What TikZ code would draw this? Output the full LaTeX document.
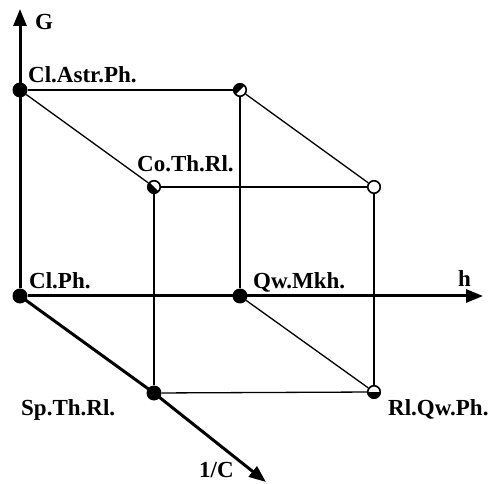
\documentclass[tikz,border=0pt]{standalone}
\usepackage{fontspec}
\setmainfont{Liberation Serif}
\usetikzlibrary{arrows.meta,positioning}

\begin{document}
\begin{tikzpicture}[x=1pt,y=-1pt,
  axis/.style={line width=3pt,-{Triangle[length=17pt,width=13pt]}},
  edge/.style={line width=1.3pt},
  dot/.style={circle,fill=black,inner sep=0pt,minimum size=15pt},
  hollow/.style={circle,draw=black,line width=1.6pt,fill=white,inner sep=0pt,minimum size=12.5pt},
  lbl/.style={font=\fontsize{23}{27}\selectfont\bfseries,inner sep=0pt,anchor=base west}
]
\useasboundingbox (0,0) rectangle (496,484);
% corners of the cube
\node[dot] (clastr) at (20,90) {};
\node[hollow] (backtr) at (240,90) {};
\node[hollow] (coth) at (154,187) {};
\node[hollow] (fronttr) at (374,187) {};
\node[dot] (clph) at (20,296) {};
\node[dot] (qwmkh) at (240,296) {};
\node[dot] (spth) at (154,393) {};
\node[hollow] (rlqw) at (374,392) {};
% half filled corners
\fill (backtr.center) ++(225:6.5pt) arc[start angle=225,end angle=45,radius=6.5pt] -- cycle;
\fill (coth.center) ++(-45:6.5pt) arc[start angle=-45,end angle=-225,radius=6.5pt] -- cycle;
\fill (rlqw.center) ++(0:6.5pt) arc[start angle=0,end angle=-180,radius=6.5pt] -- cycle;
\coordinate (gtip) at (20,9);
\coordinate (htip) at (483,296);
\coordinate (ctip) at (266,482);
% axes
\draw[axis] (clph) -- (gtip);
\draw[axis] (clph) -- (htip);
\draw[axis] (clph.center) -- (spth.center) -- (ctip);
% edges
\draw[edge] (clastr) -- (backtr);
\draw[edge] (clastr) -- (coth);
\draw[edge] (backtr) -- (fronttr);
\draw[edge] (coth) -- (fronttr);
\draw[edge] (coth) -- (spth);
\draw[edge] (backtr) -- (qwmkh);
\draw[edge] (fronttr) -- (rlqw);
\draw[edge] (spth) -- (rlqw);
\draw[edge] (qwmkh) -- (rlqw);
% labels
\node[lbl] (glbl) at (35,30) {G};
\node[lbl] (hlbl) at (458,287) {h};
\node[lbl] (clbl) at (199,477) {1/C};
\node[lbl] (clastrlbl) at (28,83) {Cl.Astr.Ph.};
\node[lbl] (cothlbl) at (137,172) {Co.Th.Rl.};
\node[lbl] (clphlbl) at (29,288) {Cl.Ph.};
\node[lbl] (qwmkhlbl) at (253,288) {Qw.Mkh.};
\node[lbl] (spthlbl) at (21,415) {Sp.Th.Rl.};
\node[lbl] (rlqwlbl) at (388,415) {Rl.Qw.Ph.};
\end{tikzpicture}
\end{document}
